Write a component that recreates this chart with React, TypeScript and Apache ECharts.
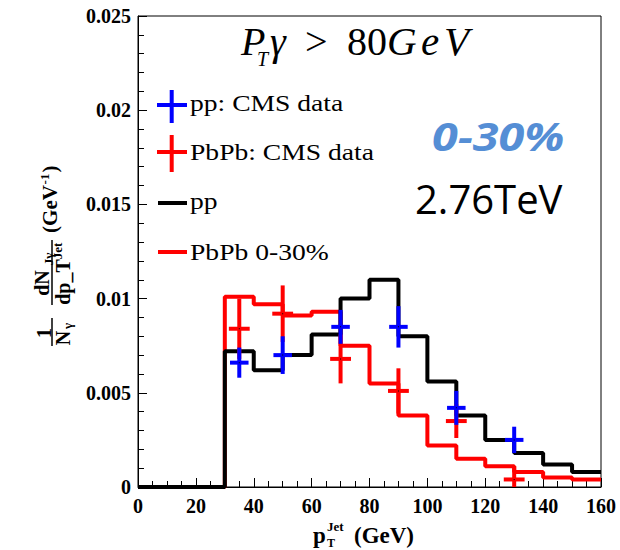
import React, { useEffect, useRef } from "react";
import * as echarts from "echarts";

// ---- data ----
const binEdges = [0, 10, 20, 30, 40, 50, 60, 70, 80, 90, 100, 110, 120, 130, 140, 150, 160];
const ppHist = [0, 0, 0, 0.0072, 0.0062, 0.0070, 0.0081, 0.0100, 0.0110, 0.0080, 0.0056, 0.0038, 0.0025, 0.0018, 0.0012, 0.0008];
const pbpbHist = [0, 0, 0, 0.0101, 0.0097, 0.0091, 0.0093, 0.0075, 0.0055, 0.0038, 0.0022, 0.0015, 0.0011, 0.0008, 0.0005, 0.0004];

const dataX = [35, 50, 70, 90, 110, 130];
const ppData = [0.0066, 0.0070, 0.0085, 0.0085, 0.0042, 0.0025];
const ppErr = [0.0008, 0.0010, 0.0009, 0.0011, 0.0009, 0.0007];
const pbpbData = [0.0084, 0.0092, 0.0068, 0.0051, 0.0035, 0.0004];
const pbpbErr = [0.0016, 0.0015, 0.0013, 0.0012, 0.0009, 0.0007];
const ppXErr = 3.2;
const pbpbXErr = 3.6;

const legendLabels = ["pp: CMS data", "PbPb: CMS data", "pp", "PbPb 0-30%"];

const BLUE = "#0000ff";
const RED = "#ff0000";
const SERIF = "Liberation Serif";

function histSteps(vals: number[]) {
  const pts: number[][] = vals.map((v, i) => [binEdges[i], v]);
  pts.push([binEdges[binEdges.length - 1], vals[vals.length - 1]]);
  return pts;
}

function errSeries(name: string, xs: number[], ys: number[], es: number[], xe: number, color: string) {
  return {
    type: "custom",
    name,
    clip: false,
    z: 5,
    data: xs.map((x, i) => [x, ys[i], es[i]]),
    renderItem: (params: any, api: any) => {
      const x = api.value(0);
      const y = api.value(1);
      const e = api.value(2);
      const c = api.coord([x, y]);
      const top = api.coord([x, y + e]);
      const bot = api.coord([x, Math.max(0, y - e)]);
      const l = api.coord([x - xe, y]);
      const r = api.coord([x + xe, y]);
      return {
        type: "group",
        children: [
          { type: "line", shape: { x1: top[0], y1: top[1], x2: bot[0], y2: bot[1] }, style: { stroke: color, lineWidth: 4 } },
          { type: "line", shape: { x1: l[0], y1: l[1], x2: r[0], y2: r[1] }, style: { stroke: color, lineWidth: 4 } },
          { type: "rect", shape: { x: c[0] - 0.5, y: c[1] - 0.5, width: 1, height: 1 }, style: { fill: "#000" } },
        ],
      };
    },
  };
}

function txt(text: string, x: number, y: number, o: any = {}) {
  return {
    type: "text",
    x,
    y,
    rotation: o.rotation || 0,
    scaleX: o.scaleX || 1,
    z: 20,
    style: {
      text,
      fontSize: o.size || 20,
      fontFamily: o.family || SERIF,
      fontWeight: o.weight || "normal",
      fontStyle: o.style || "normal",
      fill: o.color || "#000",
      align: o.align || "left",
      verticalAlign: "middle",
    },
  };
}

function ln(x1: number, y1: number, x2: number, y2: number, color: string, w: number) {
  return { type: "line", z: 20, shape: { x1, y1, x2, y2 }, style: { stroke: color, lineWidth: w } };
}

export default function App() {
  const ref = useRef<HTMLDivElement>(null);
  useEffect(() => {
    if (!ref.current) return;
    const chart = echarts.init(ref.current, undefined, { renderer: "svg" });
    const R = Math.PI / 2;
    const B = { weight: "bold" };
    const graphic: any[] = [
      // title P_T gamma > 80GeV
      txt("P", 241, 41, { size: 40, style: "italic" }),
      txt("T", 257, 59, { size: 20, style: "italic" }),
      txt("γ", 270, 41, { size: 40, style: "italic" }),
      txt(">", 305, 41, { size: 40 }),
      txt("80", 347, 41, { size: 40 }),
      txt("G", 387, 41, { size: 41, style: "italic" }),
      txt("e", 421, 41, { size: 41, style: "italic" }),
      txt("V", 444, 41, { size: 41, style: "italic" }),
      // 0-30% and energy
      txt("0-30%", 432, 136, { size: 39, family: "Open Sans", weight: "bold", style: "italic", color: "#558ED5", scaleX: 1.2 }),
      txt("2.76TeV", 415, 198, { size: 40, family: "Open Sans" }),
      // legend
      ln(157, 105, 187, 105, BLUE, 4),
      ln(171.7, 90, 171.7, 123, BLUE, 4),
      txt(legendLabels[0], 190, 103, { size: 23, scaleX: 1.2 }),
      ln(157, 152, 187, 152, RED, 4),
      ln(171.7, 135, 171.7, 172, RED, 4),
      txt(legendLabels[1], 190, 152, { size: 23, scaleX: 1.2 }),
      ln(158, 203, 187, 203, "#000", 4),
      txt(legendLabels[2], 190, 201, { size: 23, scaleX: 1.2 }),
      ln(158, 252, 187, 252, RED, 4),
      txt(legendLabels[3], 190, 252, { size: 23, scaleX: 1.2 }),
      // x-axis title
      txt("p", 313, 535, { size: 23, ...B }),
      txt("Jet", 327, 526, { size: 13, ...B }),
      txt("T", 327, 543, { size: 12, ...B }),
      txt("(GeV)", 354, 535, { size: 23, ...B }),
      // y-axis title (rotated)
      txt("1", 44, 333, { size: 20, ...B, rotation: R, align: "center" }),
      ln(52, 318, 52, 346, "#000", 1.5),
      txt("N", 63, 338, { size: 20, ...B, rotation: R, align: "center" }),
      txt("γ", 67, 326, { size: 13, ...B, rotation: R, align: "center" }),
      txt("dN", 42, 283, { size: 20, ...B, rotation: R, align: "center" }),
      txt("Jγ", 48, 259, { size: 13, ...B, rotation: R, align: "center" }),
      ln(52, 240, 52, 305, "#000", 1.5),
      txt("dp_T", 63, 282, { size: 20, ...B, rotation: R, align: "center" }),
      txt("Jet", 57, 251, { size: 13, ...B, rotation: R, align: "center" }),
      txt("(GeV", 50, 209, { size: 21, ...B, rotation: R, align: "center" }),
      txt("-1", 44, 179, { size: 13, ...B, rotation: R, align: "center" }),
      txt(")", 50, 169, { size: 21, ...B, rotation: R, align: "center" }),
    ];

    chart.setOption({
      animation: false,
      backgroundColor: "#fff",
      grid: { left: 138, right: 19, top: 16, bottom: 63, show: true, borderColor: "#000", borderWidth: 1 },
      xAxis: {
        type: "value",
        min: 0,
        max: 160,
        interval: 20,
        axisLine: { show: true, lineStyle: { color: "#000", width: 1 } },
        axisTick: { show: true, inside: true, length: 9, lineStyle: { color: "#000" } },
        minorTick: { show: true, splitNumber: 4, length: 6, lineStyle: { color: "#000" } },
        splitLine: { show: false },
        axisLabel: { fontFamily: SERIF, fontWeight: "bold", fontSize: 20, color: "#000", margin: 9 },
      },
      yAxis: {
        type: "value",
        min: 0,
        max: 0.025,
        interval: 0.005,
        axisLine: { show: true, lineStyle: { color: "#000", width: 1 } },
        axisTick: { show: true, inside: true, length: 9, lineStyle: { color: "#000" } },
        minorTick: { show: true, splitNumber: 5, length: 6, lineStyle: { color: "#000" } },
        splitLine: { show: false },
        axisLabel: {
          fontFamily: SERIF,
          fontWeight: "bold",
          fontSize: 20,
          color: "#000",
          margin: 7,
          formatter: (v: number) => String(+v.toFixed(3)),
        },
      },
      series: [
        {
          type: "line",
          name: "PbPb 0-30%",
          step: "end",
          showSymbol: false,
          data: histSteps(pbpbHist),
          lineStyle: { color: RED, width: 4 },
          z: 2,
        },
        {
          type: "line",
          name: "pp",
          step: "end",
          showSymbol: false,
          data: histSteps(ppHist),
          lineStyle: { color: "#000", width: 4 },
          z: 3,
        },
        errSeries("PbPb: CMS data", dataX, pbpbData, pbpbErr, pbpbXErr, RED),
        errSeries("pp: CMS data", dataX, ppData, ppErr, ppXErr, BLUE),
      ],
      graphic,
    });
    return () => chart.dispose();
  }, []);
  return <div ref={ref} style={{ position: "absolute", left: 0, top: 0, width: 620, height: 550, background: "#fff" }} />;
}
